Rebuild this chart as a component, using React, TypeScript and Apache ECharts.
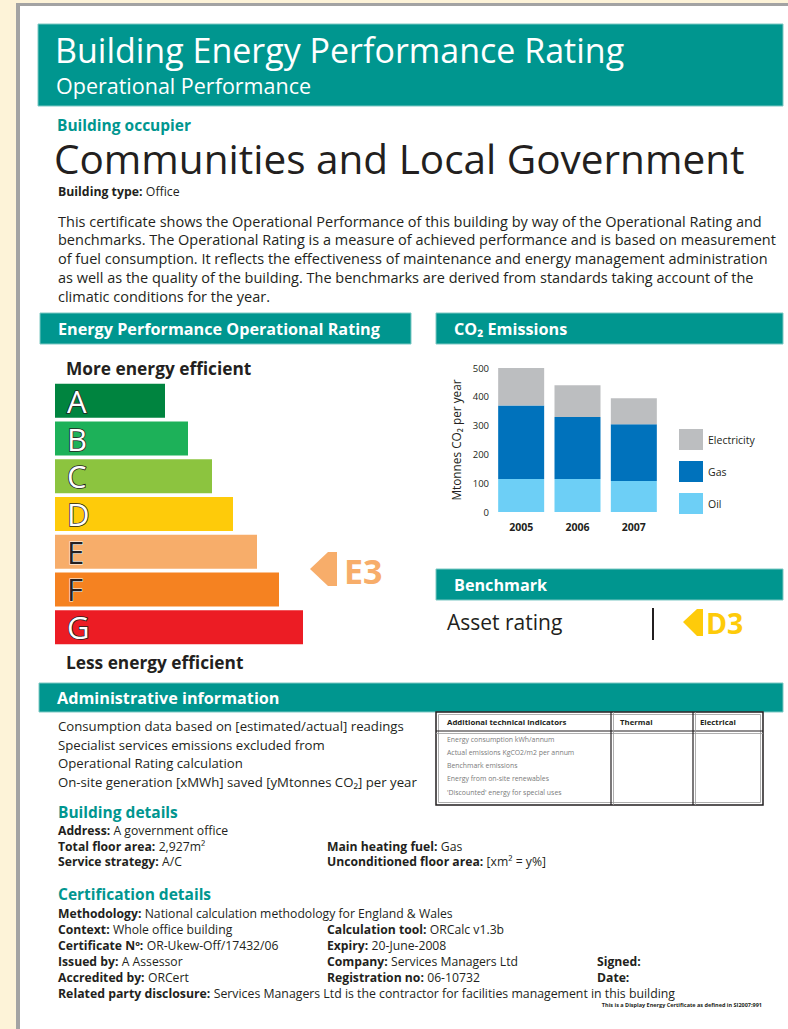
import React, { useEffect, useRef } from "react";
import * as echarts from "echarts";

// ---- data ----
const ratingBands = ["A", "B", "C", "D", "E", "F", "G"];
const ratingBarLengths = [110, 133, 157, 178, 202, 224, 248];
const ratingColors = ["#00843f", "#1db159", "#8cc43f", "#fecb0a", "#f7ad6a", "#f58221", "#ec1c24"];
const darkLetterBands = ["E", "F"];
const operationalRating = "E3";
const assetRating = "D3";

const years = ["2005", "2006", "2007"];
const oilCO2 = [115, 115, 108];
const gasCO2 = [255, 215, 197];
const electricityCO2 = [130, 110, 90];
const co2Legend = ["Electricity", "Gas", "Oil"];
const co2Colors = { Electricity: "#bcbec0", Gas: "#0072bc", Oil: "#6dcff6" };

const introLines = [
  "This certificate shows the Operational Performance of this building by way of the Operational Rating and",
  "benchmarks. The Operational Rating is a measure of achieved performance and is based on measurement",
  "of fuel consumption. It reflects the effectiveness of maintenance and energy management administration",
  "as well as the quality of the building. The benchmarks are derived from standards taking account of the",
  "climatic conditions for the year.",
];
const adminLines = [
  "Consumption data based on [estimated/actual] readings",
  "Specialist services emissions excluded from",
  "Operational Rating calculation",
  "On-site generation [xMWh] saved [yMtonnes CO₂] per year",
];
const tableHeaders = ["Additional technical indicators", "Thermal", "Electrical"];
const tableRows = [
  "Energy consumption kWh/annum",
  "Actual emissions KgCO2/m2 per annum",
  "Benchmark emissions",
  "Energy from on-site renewables",
  "'Discounted' energy for special uses",
];

const FONT = "'Open Sans', 'Noto Sans', sans-serif";
const DARK = "#231f20";
const TEAL = "#00968f";

function txt(x: number, y: number, text: string, size: number, o: any = {}) {
  return {
    type: "text",
    x,
    y,
    silent: true,
    style: {
      text,
      fontSize: size,
      lineHeight: size,
      fontFamily: FONT,
      fontWeight: o.weight || "normal",
      fill: o.color || DARK,
      align: o.align || "left",
      verticalAlign: "middle",
    },
  };
}

function pair(x: number, y: number, label: string, value: string, size = 12.2) {
  return {
    type: "text",
    x,
    y,
    silent: true,
    style: {
      text: value ? `{b|${label}} {n|${value}}` : `{b|${label}}`,
      verticalAlign: "middle",
      align: "left",
      rich: {
        b: { fontSize: size, lineHeight: size, fontFamily: FONT, fontWeight: "bold", fill: DARK },
        n: { fontSize: size, lineHeight: size, fontFamily: FONT, fontWeight: "normal", fill: DARK },
      },
    },
  };
}

function band(x: number, y: number, w: number, h: number, label: string, size = 16) {
  return [
    {
      type: "rect",
      shape: { x, y, width: w, height: h },
      style: { fill: TEAL, stroke: "#7cc8c3", lineWidth: 1 },
      silent: true,
    },
    txt(x + 18, y + h / 2, label, size, { weight: "bold", color: "#ffffff" }),
  ];
}

export default function App() {
  const ref = useRef<HTMLDivElement>(null);

  useEffect(() => {
    if (!ref.current) return;
    const chart = echarts.init(ref.current, undefined, { renderer: "svg" });

    const graphics: any[] = [];
    // page
    graphics.push({ type: "rect", shape: { x: 16, y: 3, width: 800, height: 1050 }, style: { fill: "#a3a3a3" }, silent: true, z: -10 });
    graphics.push({ type: "rect", shape: { x: 20, y: 6, width: 800, height: 1050 }, style: { fill: "#ffffff" }, silent: true, z: -9 });
    // header
    graphics.push({ type: "rect", shape: { x: 38, y: 24, width: 745, height: 82 }, style: { fill: TEAL, stroke: "#7cc8c3", lineWidth: 1 }, silent: true });
    graphics.push(txt(55, 50, "Building Energy Performance Rating", 34, { color: "#ffffff" }));
    graphics.push(txt(56, 85, "Operational Performance", 21.5, { color: "#ffffff" }));

    graphics.push(txt(57, 125, "Building occupier", 15.5, { color: TEAL, weight: "bold" }));
    graphics.push(txt(54, 158, "Communities and Local Government", 40.5));
    graphics.push(pair(58, 191, "Building type:", "Office", 12.3));
    introLines.forEach((l, i) => graphics.push(txt(58, 221 + i * 18.8, l, 14.5)));

    // rating section
    graphics.push(...band(40, 313, 371, 31, "Energy Performance Operational Rating", 16.2));
    graphics.push(txt(66, 368, "More energy efficient", 17.3, { weight: "bold" }));
    graphics.push(txt(66, 662, "Less energy efficient", 17.3, { weight: "bold" }));
    const eColor = ratingColors[ratingBands.indexOf(operationalRating[0])];
    graphics.push({
      type: "polygon",
      shape: { points: [[310, 569], [328, 552], [337, 552], [337, 586], [328, 586]] },
      style: { fill: eColor },
      silent: true,
    });
    graphics.push(txt(344, 571, operationalRating, 34, { weight: "bold", color: eColor }));

    // CO2 section
    graphics.push(...band(436, 313, 347, 31, "CO₂ Emissions", 16.2));

    // Benchmark
    graphics.push(...band(436, 569, 347, 31, "Benchmark", 16.2));
    graphics.push(txt(447, 622, "Asset rating", 21));
    graphics.push({ type: "line", shape: { x1: 653, y1: 608, x2: 653, y2: 640 }, style: { stroke: DARK, lineWidth: 2 }, silent: true });
    const dColor = ratingColors[ratingBands.indexOf(assetRating[0])];
    graphics.push({
      type: "polygon",
      shape: { points: [[683, 622], [697, 609], [703, 609], [703, 636], [697, 636]] },
      style: { fill: dColor },
      silent: true,
    });
    graphics.push(txt(706, 623, assetRating, 28.5, { weight: "bold", color: dColor }));

    // Admin
    graphics.push(...band(39, 683, 744, 29, "Administrative information", 16.2));
    adminLines.forEach((l, i) => graphics.push(txt(58, 726 + i * 18.5, l, 13.2)));

    // table
    const tx0 = 436, tx1 = 763, ty0 = 712, ty1 = 805, thy = 731, c1 = 611, c2 = 693;
    graphics.push({ type: "rect", shape: { x: tx0, y: ty0, width: tx1 - tx0, height: ty1 - ty0 }, style: { fill: "#fff", stroke: DARK, lineWidth: 1.5 }, silent: true });
    graphics.push({ type: "rect", shape: { x: tx0 + 2.5, y: ty0 + 2.5, width: tx1 - tx0 - 5, height: ty1 - ty0 - 5 }, style: { fill: "none", stroke: "#9a9a9a", lineWidth: 0.8 }, silent: true });
    graphics.push({ type: "line", shape: { x1: tx0, y1: thy, x2: tx1, y2: thy }, style: { stroke: DARK, lineWidth: 1.2 }, silent: true });
    graphics.push({ type: "line", shape: { x1: tx0, y1: thy + 2.5, x2: tx1, y2: thy + 2.5 }, style: { stroke: "#9a9a9a", lineWidth: 0.8 }, silent: true });
    [c1, c2].forEach((cx) => {
      graphics.push({ type: "line", shape: { x1: cx, y1: ty0, x2: cx, y2: ty1 }, style: { stroke: DARK, lineWidth: 1.2 }, silent: true });
      graphics.push({ type: "line", shape: { x1: cx + 2.5, y1: ty0, x2: cx + 2.5, y2: ty1 }, style: { stroke: "#9a9a9a", lineWidth: 0.8 }, silent: true });
    });
    graphics.push(txt(447, 722, tableHeaders[0], 7.8, { weight: "bold" }));
    graphics.push(txt(620, 722, tableHeaders[1], 7.8, { weight: "bold" }));
    graphics.push(txt(700, 722, tableHeaders[2], 7.8, { weight: "bold" }));
    tableRows.forEach((r, i) => graphics.push(txt(447, 739 + i * 13.3, r, 6.9, { color: "#7a7a7a" })));

    // Building details
    graphics.push(txt(58, 812, "Building details", 15.5, { weight: "bold", color: TEAL }));
    graphics.push(pair(58, 830, "Address:", "A government office"));
    graphics.push(pair(58, 846, "Total floor area:", "2,927m²"));
    graphics.push(pair(327, 846, "Main heating fuel:", "Gas"));
    graphics.push(pair(58, 861, "Service strategy:", "A/C"));
    graphics.push(pair(327, 861, "Unconditioned floor area:", "[xm² = y%]"));

    // Certification details
    graphics.push(txt(58, 894, "Certification details", 15.5, { weight: "bold", color: TEAL }));
    graphics.push(pair(58, 913, "Methodology:", "National calculation methodology for England & Wales"));
    graphics.push(pair(58, 929, "Context:", "Whole office building"));
    graphics.push(pair(327, 929, "Calculation tool:", "ORCalc v1.3b"));
    graphics.push(pair(58, 945, "Certificate Nº:", "OR-Ukew-Off/17432/06"));
    graphics.push(pair(327, 945, "Expiry:", "20-June-2008"));
    graphics.push(pair(58, 961, "Issued by:", "A Assessor"));
    graphics.push(pair(327, 961, "Company:", "Services Managers Ltd"));
    graphics.push(pair(597, 961, "Signed:", ""));
    graphics.push(pair(58, 977, "Accredited by:", "ORCert"));
    graphics.push(pair(327, 977, "Registration no:", "06-10732"));
    graphics.push(pair(597, 977, "Date:", ""));
    graphics.push(pair(58, 993, "Related party disclosure:", "Services Managers Ltd is the contractor for facilities management in this building", 12.3));
    graphics.push(txt(762, 1005, "This is a Display Energy Certificate as defined in SI2007:991", 5.5, { weight: "bold", align: "right" }));

    const option: any = {
      animation: false,
      graphic: graphics,
      grid: [
        { left: 55, top: 382, width: 300, height: 264 },
        { left: 493, top: 368, width: 169, height: 144 },
      ],
      xAxis: [
        { gridIndex: 0, type: "value", min: 0, max: 300, show: false },
        {
          gridIndex: 1,
          type: "category",
          data: years,
          axisLine: { show: false },
          axisTick: { show: false },
          axisLabel: { fontSize: 10.5, color: DARK, margin: 9, fontFamily: FONT, fontWeight: "bold" },
        },
      ],
      yAxis: [
        { gridIndex: 0, type: "category", data: ratingBands, inverse: true, show: false },
        {
          gridIndex: 1,
          type: "value",
          min: 0,
          max: 500,
          interval: 100,
          axisLine: { show: false },
          axisTick: { show: false },
          splitLine: { show: false },
          axisLabel: { fontSize: 9.5, color: DARK, margin: 4, fontFamily: FONT },
          name: "Mtonnes CO₂ per year",
          nameLocation: "middle",
          nameGap: 31,
          nameTextStyle: { fontSize: 11.8, color: DARK, fontFamily: FONT },
        },
      ],
      legend: {
        data: co2Legend,
        orient: "vertical",
        left: 679,
        top: 429,
        padding: 0,
        itemWidth: 24,
        itemHeight: 21,
        itemGap: 11,
        icon: "rect",
        selectedMode: false,
        textStyle: { fontSize: 10.5, color: DARK, fontFamily: FONT },
      },
      series: [
        {
          type: "bar",
          xAxisIndex: 0,
          yAxisIndex: 0,
          barWidth: 34,
          data: ratingBarLengths.map((v, i) => {
            const dark = darkLetterBands.includes(ratingBands[i]);
            return {
              value: v,
              itemStyle: { color: ratingColors[i] },
              label: {
                color: dark ? DARK : "#ffffff",
                textBorderColor: dark ? "#ffffff" : DARK,
                textBorderWidth: dark ? 1 : 1.6,
              },
            };
          }),
          label: {
            show: true,
            position: "insideLeft",
            distance: 12,
            formatter: "{b}",
            fontSize: 31,
            lineHeight: 30,
            fontFamily: FONT,
          },
        },
        {
          type: "bar",
          name: "Oil",
          stack: "co2",
          xAxisIndex: 1,
          yAxisIndex: 1,
          barWidth: 46,
          data: oilCO2,
          itemStyle: { color: co2Colors.Oil },
        },
        {
          type: "bar",
          name: "Gas",
          stack: "co2",
          xAxisIndex: 1,
          yAxisIndex: 1,
          barWidth: 46,
          data: gasCO2,
          itemStyle: { color: co2Colors.Gas },
        },
        {
          type: "bar",
          name: "Electricity",
          stack: "co2",
          xAxisIndex: 1,
          yAxisIndex: 1,
          barWidth: 46,
          data: electricityCO2,
          itemStyle: { color: co2Colors.Electricity },
        },
      ],
    };

    chart.setOption(option);
    return () => chart.dispose();
  }, []);

  return (
    <div
      ref={ref}
      style={{ position: "fixed", left: 0, top: 0, width: 788, height: 1029, background: "#fdf3d8" }}
    />
  );
}
